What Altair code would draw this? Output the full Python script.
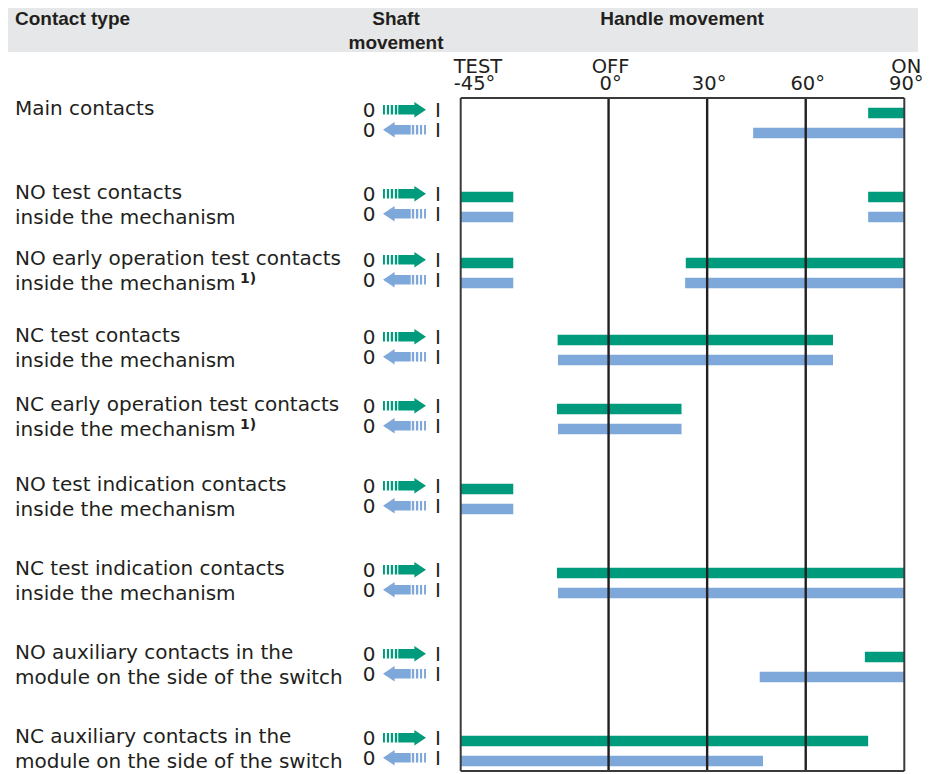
import altair as alt
import pandas as pd

# ---------------- data ----------------
contact_types = [
    "Main contacts",
    "NO test contacts\ninside the mechanism",
    "NO early operation test contacts\ninside the mechanism",
    "NC test contacts\ninside the mechanism",
    "NC early operation test contacts\ninside the mechanism",
    "NO test indication contacts\ninside the mechanism",
    "NC test indication contacts\ninside the mechanism",
    "NO auxiliary contacts in the\nmodule on the side of the switch",
    "NC auxiliary contacts in the\nmodule on the side of the switch",
]
footnotes = ["", "", "1)", "", "1)", "", "", "", ""]
directions = ["0 -> I", "I -> 0"]
# handle angle ranges (degrees) where the contact is closed, shaft moving 0 -> I
closed_0_to_I = [
    [(79, 90)],
    [(-45, -29), (79, 90)],
    [(-45, -29), (23.5, 90)],
    [(-15.5, 68.3)],
    [(-15.7, 22.2)],
    [(-45, -29)],
    [(-15.7, 90)],
    [(78, 90)],
    [(-45, 79)],
]
# ... shaft moving I -> 0
closed_I_to_0 = [
    [(44, 90)],
    [(-45, -29), (79, 90)],
    [(-45, -29), (23.3, 90)],
    [(-15.4, 68.3)],
    [(-15.4, 22.2)],
    [(-45, -29)],
    [(-15.4, 90)],
    [(46, 90)],
    [(-45, 47)],
]
tick_values = [-45, 0, 30, 60, 90]
tick_labels = ["-45\u00b0", "0\u00b0", "30\u00b0", "60\u00b0", "90\u00b0"]
position_names = ["TEST", "OFF", "", "", "ON"]
grid_values = [0, 30, 60]
frame_values = [-45, 90]
header_contact = "Contact type"
header_shaft = "Shaft\nmovement"
header_handle = "Handle movement"

# ---------------- style / layout ----------------
W = 910
ROW_HEIGHTS = [84, 66, 77, 69, 80, 84, 84, 84, 45]
INK = "#231f20"
GREEN = "#009b7c"
BLUE = "#7ea8d9"
FONT = "DejaVu Sans"

XS = alt.Scale(domain=[-45, 90], range=[452.7, 896.3], nice=False, zero=False)
YS = alt.Scale(type="point", domain=directions, range=[15, 35], padding=0)
CS = alt.Scale(domain=directions, range=[GREEN, BLUE])


def arrow_path(sign):
    yc = -0.15
    b, h = 0.22, 0.36
    parts = []
    for x0, x1 in [(-1, -0.91), (-0.82, -0.72), (-0.64, -0.53), (-0.45, -0.34)]:
        a0, a1 = sign * x0, sign * x1
        parts.append(f"M{a0},{yc-b}L{a1},{yc-b}L{a1},{yc+b}L{a0},{yc+b}Z")
    s0, s1, tip = sign * -0.29, sign * 0.46, sign * 1
    parts.append(
        f"M{s0},{yc-b}L{s1},{yc-b}L{s1},{yc-h}L{tip},{yc}L{s1},{yc+h}L{s1},{yc+b}L{s0},{yc+b}Z"
    )
    return "".join(parts)


SS = alt.Scale(domain=directions, range=[arrow_path(1), arrow_path(-1)])

# ---------------- header ----------------
header = alt.layer(
    alt.Chart(pd.DataFrame({"t": [header_contact]})).mark_text(
        align="left", baseline="alphabetic", font="Liberation Sans", fontWeight="bold",
        fontSize=19, color=INK
    ).encode(text="t:N", x=alt.value(7), y=alt.value(17)),
    alt.Chart(pd.DataFrame({"t": [header_shaft]})).mark_text(
        align="center", baseline="alphabetic", font="Liberation Sans", fontWeight="bold",
        fontSize=19, color=INK, lineBreak="\n", lineHeight=24
    ).encode(text="t:N", x=alt.value(388), y=alt.value(17)),
    alt.Chart(pd.DataFrame({"t": [header_handle]})).mark_text(
        align="center", baseline="alphabetic", font="Liberation Sans", fontWeight="bold",
        fontSize=19, color=INK
    ).encode(text="t:N", x=alt.value(674), y=alt.value(17)),
).properties(width=W, height=44, view=alt.ViewBackground(fill="#e6e7e8", strokeWidth=0))

# ---------------- scale labels above the frame ----------------
ticks_df = pd.DataFrame({"deg": tick_values, "label": tick_labels, "pos": position_names})
ticks_df["text"] = ticks_df["pos"] + "\n" + ticks_df["label"]

tick_base = alt.Chart(ticks_df)
tick_panel = alt.layer(
    tick_base.transform_filter(alt.datum.deg == tick_values[0]).mark_text(
        align="left", baseline="alphabetic", dx=-7, font=FONT, fontSize=19.5, color=INK,
        lineBreak="\n", lineHeight=17
    ).encode(x=alt.X("deg:Q", scale=XS, axis=None), y=alt.value(21), text="text:N"),
    tick_base.transform_filter(alt.datum.deg != tick_values[0]).mark_text(
        align="center", baseline="alphabetic", dx=2, font=FONT, fontSize=19.5, color=INK,
        lineBreak="\n", lineHeight=17
    ).encode(x=alt.X("deg:Q", scale=XS, axis=None), y=alt.value(21), text="text:N"),
).properties(width=W, height=46)

# ---------------- contact rows ----------------
grid_df = pd.DataFrame({"deg": grid_values})
frame_df = pd.DataFrame({"deg": frame_values})
edge_df = pd.DataFrame({"start": [frame_values[0]], "end": [frame_values[1]]})


def row_panel(i, h):
    segs = []
    for d, table in zip(directions, [closed_0_to_I, closed_I_to_0]):
        for s, e in table[i]:
            segs.append({"dir": d, "start": s, "end": e})
    seg_df = pd.DataFrame(segs)
    dir_df = pd.DataFrame({"dir": directions, "zero": ["0", "0"], "one": ["I", "I"]})

    bars = alt.Chart(seg_df).mark_rule(strokeWidth=10.5, strokeCap="butt").encode(
        x=alt.X("start:Q", scale=XS, axis=None),
        x2="end:Q",
        y=alt.Y("dir:N", scale=YS, axis=None),
        color=alt.Color("dir:N", scale=CS, legend=None),
    )
    grid = alt.Chart(grid_df).mark_rule(strokeWidth=2.4, color=INK).encode(
        x=alt.X("deg:Q", scale=XS, axis=None)
    )
    frame = alt.Chart(frame_df).mark_rule(strokeWidth=2, color="#3a3a3a").encode(
        x=alt.X("deg:Q", scale=XS, axis=None)
    )
    label = alt.Chart(pd.DataFrame({"label": [contact_types[i]]})).mark_text(
        align="left", baseline="alphabetic", font=FONT, fontSize=20, color=INK,
        lineBreak="\n", lineHeight=25
    ).encode(text="label:N", x=alt.value(7), y=alt.value(17))
    zero = alt.Chart(dir_df).mark_text(
        align="center", baseline="middle", dy=-2, font=FONT, fontSize=20, color=INK
    ).encode(text="zero:N", x=alt.value(361), y=alt.Y("dir:N", scale=YS, axis=None))
    one = alt.Chart(dir_df).mark_text(
        align="center", baseline="middle", dy=-2, font=FONT, fontSize=20, color=INK
    ).encode(text="one:N", x=alt.value(430), y=alt.Y("dir:N", scale=YS, axis=None))
    arrows = alt.Chart(dir_df).mark_point(
        filled=True, size=1849, opacity=1, strokeWidth=0
    ).encode(
        x=alt.value(396.5),
        y=alt.Y("dir:N", scale=YS, axis=None),
        shape=alt.Shape("dir:N", scale=SS, legend=None),
        color=alt.Color("dir:N", scale=CS, legend=None),
    )
    layers = [bars, grid, frame, label, zero, one, arrows]
    if footnotes[i]:
        layers.append(
            alt.Chart(pd.DataFrame({"note": [footnotes[i]]})).mark_text(
                align="left", baseline="alphabetic", font=FONT, fontSize=14,
                fontWeight="bold", color=INK
            ).encode(text="note:N", x=alt.value(232), y=alt.value(35))
        )
    if i == 0:
        layers.append(
            alt.Chart(edge_df).mark_rule(strokeWidth=2, color="#3a3a3a").encode(
                x=alt.X("start:Q", scale=XS, axis=None), x2="end:Q", y=alt.value(0)
            )
        )
    if i == len(contact_types) - 1:
        layers.append(
            alt.Chart(edge_df).mark_rule(strokeWidth=2, color="#3a3a3a").encode(
                x=alt.X("start:Q", scale=XS, axis=None), x2="end:Q", y=alt.value(h)
            )
        )
    return alt.layer(*layers).properties(width=W, height=h)


rows = [row_panel(i, h) for i, h in enumerate(ROW_HEIGHTS)]

chart = alt.vconcat(header, tick_panel, *rows, spacing=0, bounds="flush").properties(
    padding=0
).configure_view(strokeWidth=0)

chart.save("out.html", embed_options={"renderer": "svg", "actions": False})
